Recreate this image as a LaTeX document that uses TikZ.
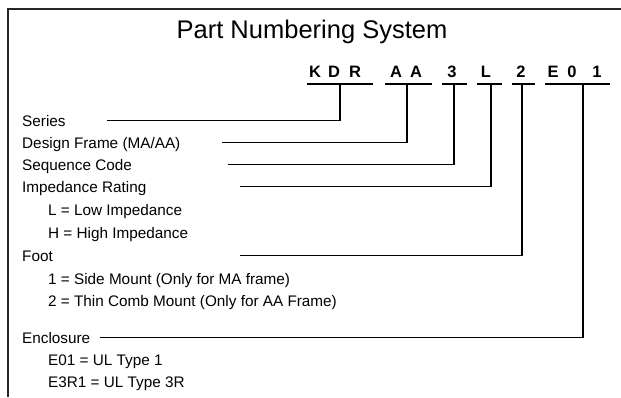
\documentclass[tikz,border=0pt]{standalone}
\usepackage{fontspec}
\setmainfont{Liberation Sans}
\tikzset{
  frameline/.style={line width=2.4pt, black!85},
  leader/.style={line width=1.8pt, black},
  rowtext/.style={anchor=base west, inner sep=0pt, font=\fontsize{15.3}{17}\selectfont},
  codechar/.style={anchor=base, inner sep=0pt, font=\fontsize{16.5}{18}\selectfont\bfseries}
}
\begin{document}
\begin{tikzpicture}[x=1pt, y=-1pt]
	\useasboundingbox (0,0) rectangle (621,397);

	% outer frame (open at right and bottom)
	\draw[frameline] (8,397) -- (8,9) -- (621,9);

	\node[anchor=base, inner sep=0pt, font=\fontsize{25.5}{30}\selectfont] (title) at (312,38) {Part Numbering System};

	% code characters
	\node[codechar] (cK) at (315,77) {K};
	\node[codechar] (cD) at (334,77) {D};
	\node[codechar] (cR) at (355,77) {R};
	\node[codechar] (cA1) at (396,77) {A};
	\node[codechar] (cA2) at (416,77) {A};
	\node[codechar] (c3) at (452,77) {3};
	\node[codechar] (cL) at (486,77) {L};
	\node[codechar] (c2) at (521,77) {2};
	\node[codechar] (cE) at (553,77) {E};
	\node[codechar] (c0) at (572,77) {0};
	\node[codechar] (c1) at (597,77) {1};

	% underlines
	\draw[leader] (307,84) -- (373,84);
	\draw[leader] (385,84) -- (432,84);
	\draw[leader] (442,84) -- (467,84);
	\draw[leader] (477,84) -- (502,84);
	\draw[leader] (512,84) -- (535,84);
	\draw[leader] (545,84) -- (610,84);

	% labels
	\node[rowtext] (series) at (22,126) {Series};
	\node[rowtext] (frame) at (22,148) {Design Frame (MA/AA)};
	\node[rowtext] (seq) at (22,170) {Sequence Code};
	\node[rowtext] (imp) at (22,192) {Impedance Rating};
	\node[rowtext] (impL) at (48,215) {L = Low Impedance};
	\node[rowtext] (impH) at (48,238) {H = High Impedance};
	\node[rowtext] (foot) at (22,261) {Foot};
	\node[rowtext] (foot1) at (48,284) {1 = Side Mount (Only for MA frame)};
	\node[rowtext] (foot2) at (48,306) {2 = Thin Comb Mount (Only for AA Frame)};
	\node[rowtext] (encl) at (22,343) {Enclosure};
	\node[rowtext] (enclA) at (48,365) {E01 = UL Type 1};
	\node[rowtext] (enclB) at (48,387) {E3R1 = UL Type 3R};

	% leaders from labels up to the code
	\coordinate (sS) at (107,120.5);
	\coordinate (sF) at (222,142.5);
	\coordinate (sQ) at (228,164.5);
	\coordinate (sI) at (240,186.5);
	\coordinate (sT) at (240,255.5);
	\coordinate (sE) at (100,337.5);
	\draw[leader] (sS) -| (340,84);
	\draw[leader] (sF) -| (407,84);
	\draw[leader] (sQ) -| (454,84);
	\draw[leader] (sI) -| (491,84);
	\draw[leader] (sT) -| (522,84);
	\draw[leader] (sE) -| (583,84);
\end{tikzpicture}
\end{document}
